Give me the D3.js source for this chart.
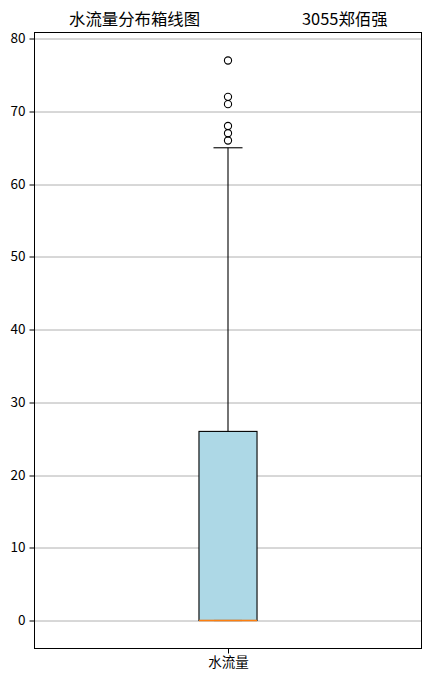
<!DOCTYPE html>
<html>
<head>
<meta charset="utf-8">
<script src="https://cdn.jsdelivr.net/npm/d3@7"></script>
<style>
  body { margin: 0; background: #fff; }
  text { font-family: "Noto Sans CJK SC", "DejaVu Sans", sans-serif; }
</style>
</head>
<body>
<svg width="431" height="681"></svg>
<script>
// box statistics
var categories = ["水流量"]
var q1 = [0]
var median = [0]
var q3 = [26]
var whisker_low = [0]
var whisker_high = [65]
var outliers = [[66, 67, 68, 71, 72, 77]]
var y_ticks = [0, 10, 20, 30, 40, 50, 60, 70, 80]
var title_left = "水流量分布箱线图"
var title_right = "3055郑佰强"

var svg = d3.select("svg"),
    margin = { top: 32.5, right: 9.5, bottom: 32.5, left: 34.5 },
    width = +svg.attr("width") - margin.left - margin.right,
    height = +svg.attr("height") - margin.top - margin.bottom,
    g = svg.append("g").attr("transform", "translate(" + margin.left + "," + margin.top + ")")

// matplotlib style limits: positions 1..n, x from 0.5 to n+0.5, 5% margins on y
var x_scale = d3.scaleLinear()
    .domain([0.5, categories.length + 0.5])
    .range([0, width])

var all_vals = whisker_low.concat(whisker_high, d3.merge(outliers))
var lo = d3.min(all_vals), hi = d3.max(all_vals), pad = (hi - lo) * 0.05
var y_scale = d3.scaleLinear()
    .domain([lo - pad, hi + pad])
    .range([height, 0])

// grid
g.append("g")
    .selectAll("line")
    .data(y_ticks)
    .enter().append("line")
    .attr("x1", 0)
    .attr("x2", width)
    .attr("y1", function (d) { return Math.round(y_scale(d)) + 0.5 })
    .attr("y2", function (d) { return Math.round(y_scale(d)) + 0.5 })
    .attr("stroke", "#b0b0b0")
    .attr("stroke-width", 1)

// axes
var y_axis = g.append("g")
    .call(d3.axisLeft(y_scale).tickValues(y_ticks).tickSize(5).tickPadding(4))
var x_axis = g.append("g")
    .attr("transform", "translate(0," + height + ")")
    .call(d3.axisBottom(x_scale).tickValues(d3.range(1, categories.length + 1))
        .tickFormat(function (d) { return categories[d - 1] }).tickSize(5).tickPadding(4))

;[y_axis, x_axis].forEach(function (a) {
    a.select(".domain").remove()
    a.selectAll("line").attr("stroke", "#000")
    a.selectAll("text").attr("font-size", "13.5px").attr("fill", "#000")
        .attr("font-family", "'Noto Sans CJK SC', sans-serif")
})
y_axis.selectAll(".tick").attr("transform", function (d) {
    return "translate(0," + (Math.round(y_scale(d)) + 0.5) + ")"
})

// boxes
var box_w = 0.15
categories.forEach(function (c, i) {
    var pos = i + 1
    var cx = x_scale(pos)
    var x0 = x_scale(pos - box_w / 2), x1 = x_scale(pos + box_w / 2)
    var cap0 = x_scale(pos - box_w / 4), cap1 = x_scale(pos + box_w / 4)

    // whiskers
    g.append("line")
        .attr("x1", cx).attr("x2", cx)
        .attr("y1", y_scale(q3[i])).attr("y2", y_scale(whisker_high[i]))
        .attr("stroke", "#000").attr("stroke-width", 1.1)
    g.append("line")
        .attr("x1", cx).attr("x2", cx)
        .attr("y1", y_scale(q1[i])).attr("y2", y_scale(whisker_low[i]))
        .attr("stroke", "#000").attr("stroke-width", 1.1)

    g.append("rect")
        .attr("x", x0)
        .attr("y", y_scale(q3[i]))
        .attr("width", x1 - x0)
        .attr("height", y_scale(q1[i]) - y_scale(q3[i]))
        .attr("fill", "#add8e6")
        .attr("stroke", "#000")
        .attr("stroke-width", 1.1)

    // caps
    ;[whisker_low[i], whisker_high[i]].forEach(function (v) {
        g.append("line")
            .attr("x1", cap0).attr("x2", cap1)
            .attr("y1", y_scale(v)).attr("y2", y_scale(v))
            .attr("stroke", "#000").attr("stroke-width", 1.1)
    })

    // median
    g.append("line")
        .attr("x1", x0).attr("x2", x1)
        .attr("y1", y_scale(median[i])).attr("y2", y_scale(median[i]))
        .attr("stroke", "#ff7f0e").attr("stroke-width", 1.4)

    // fliers
    g.selectAll(".flier" + i)
        .data(outliers[i])
        .enter().append("circle")
        .attr("cx", cx)
        .attr("cy", function (d) { return y_scale(d) })
        .attr("r", 3.6)
        .attr("fill", "none")
        .attr("stroke", "#000")
        .attr("stroke-width", 1.1)
})

// frame
g.append("rect")
    .attr("width", width)
    .attr("height", height)
    .attr("fill", "none")
    .attr("stroke", "#000")
    .attr("stroke-width", 1)

// title, written with wide padding between the two parts
var mid = margin.left + width / 2
svg.append("text")
    .attr("x", mid - 159)
    .attr("y", margin.top - 8)
    .attr("font-size", "16.4px")
    .attr("fill", "#000")
    .text(title_left)
svg.append("text")
    .attr("x", mid + 74)
    .attr("y", margin.top - 8)
    .attr("font-size", "16.4px")
    .attr("fill", "#000")
    .text(title_right)
</script>
</body>
</html>
